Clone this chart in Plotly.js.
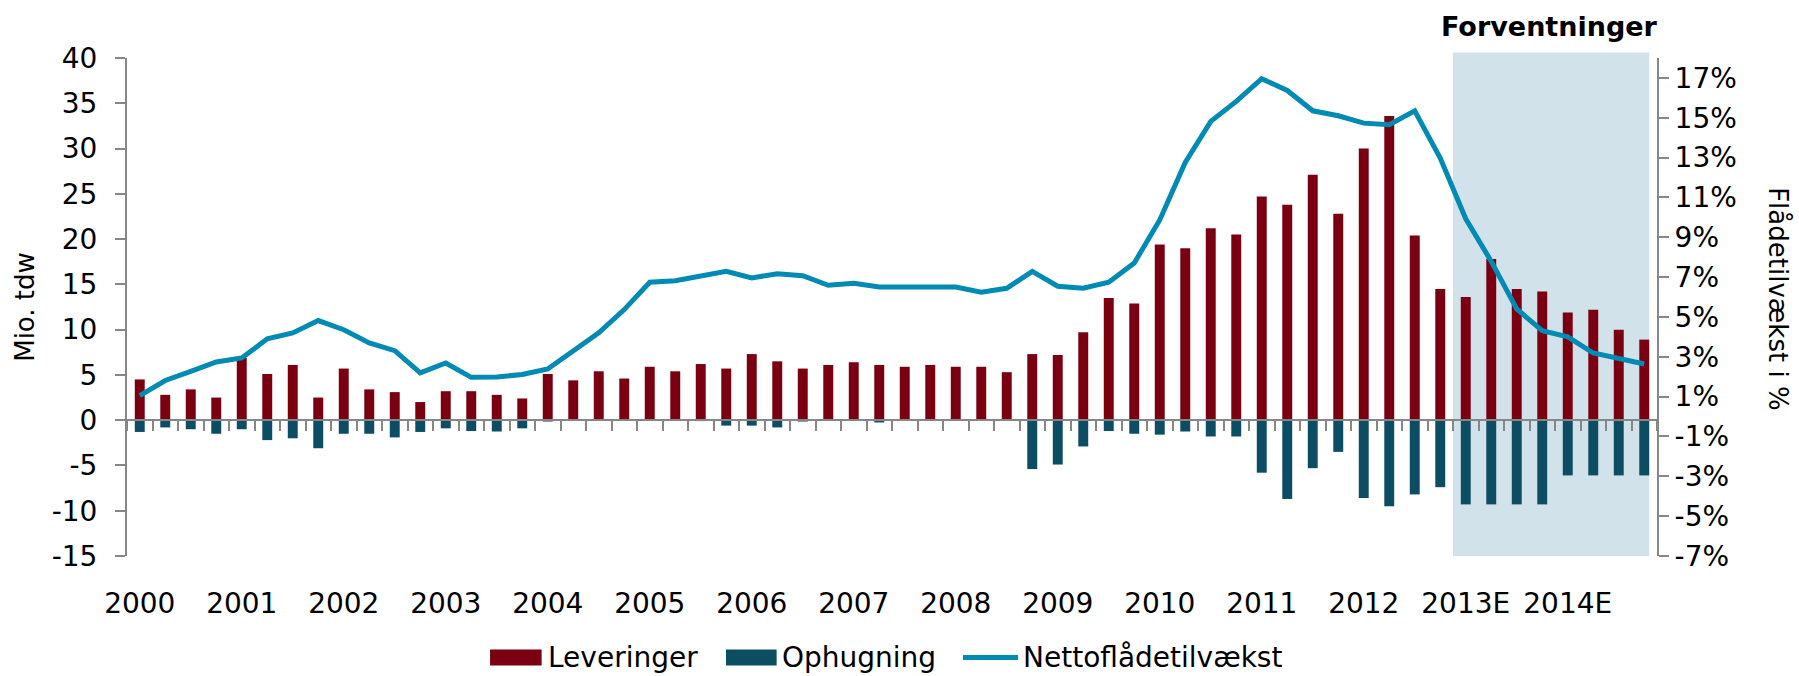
<!DOCTYPE html>
<html>
<head>
<meta charset="utf-8">
<script src="https://cdn.plot.ly/plotly-3.0.1.min.js"></script>
<style>
  html, body { margin: 0; padding: 0; background: #fff; }
  #chart { width: 1799px; height: 676px; }
</style>
</head>
<body>
<div id="chart"></div>
<script>
// ---- Data ----
const years = ['2000','2001','2002','2003','2004','2005','2006','2007','2008','2009','2010','2011','2012','2013E','2014E'];
const quarters = [];
years.forEach(y => { for (let q = 1; q <= 4; q++) quarters.push(y + ' K' + q); });

// Leveringer, mio. tdw
const leveringer = [
  4.5, 2.8, 3.4, 2.5,
  6.9, 5.1, 6.1, 2.5,
  5.7, 3.4, 3.1, 2.0,
  3.2, 3.2, 2.8, 2.4,
  5.1, 4.4, 5.4, 4.6,
  5.9, 5.4, 6.2, 5.7,
  7.3, 6.5, 5.7, 6.1,
  6.4, 6.1, 5.9, 6.1,
  5.9, 5.9, 5.3, 7.3,
  7.2, 9.7, 13.5, 12.9,
  19.4, 19.0, 21.2, 20.5,
  24.7, 23.8, 27.1, 22.8,
  30.0, 33.6, 20.4, 14.5,
  13.6, 17.8, 14.5, 14.2,
  11.9, 12.2, 10.0, 8.9
];

// Ophugning, mio. tdw
const ophugning = [
  -1.3, -0.8, -1.0, -1.5,
  -1.0, -2.2, -2.0, -3.1,
  -1.5, -1.5, -1.9, -1.3,
  -0.9, -1.2, -1.25, -0.9,
  -0.15, -0.05, -0.05, -0.05,
  -0.05, -0.05, -0.1, -0.6,
  -0.6, -0.8, -0.15, -0.05,
  -0.05, -0.25, -0.05, -0.05,
  -0.05, -0.05, -0.05, -5.4,
  -4.9, -2.9, -1.2, -1.5,
  -1.6, -1.25, -1.8, -1.8,
  -5.8, -8.7, -5.3, -3.5,
  -8.6, -9.5, -8.2, -7.4,
  -9.3, -9.3, -9.3, -9.3,
  -6.1, -6.1, -6.1, -6.1
];

// Nettoflådetilvækst, %
const netto = [
  1.05, 1.81, 2.27, 2.74,
  2.94, 3.90, 4.20, 4.82,
  4.36, 3.70, 3.31, 2.19,
  2.69, 1.97, 1.99, 2.11,
  2.39, 3.28, 4.20, 5.37,
  6.74, 6.82, 7.04, 7.29,
  6.96, 7.17, 7.07, 6.59,
  6.69, 6.50, 6.50, 6.52,
  6.50, 6.24, 6.44, 7.29,
  6.54, 6.44, 6.74, 7.71,
  9.87, 12.76, 14.82, 15.82,
  16.96, 16.37, 15.35, 15.10,
  14.73, 14.65, 15.35, 12.98,
  9.93, 7.79, 5.40, 4.31,
  4.00, 3.19, 2.94, 2.64
];

const seriesNames = ['Leveringer', 'Ophugning', 'Nettoflådetilvækst'];
const seriesColors = ['#7A0011', '#0D4D64', '#008AB4'];
const forecastStart = '2013E K1';

// ---- Derived positions ----
const xs = quarters.map((q, i) => i);
const yearTickVals = years.map((y, i) => i * 4);
const boundaryTicks = [];
for (let i = 0; i <= quarters.length; i++) boundaryTicks.push(i - 0.5);
const fIdx = quarters.indexOf(forecastStart);
const barWidth = 0.39;

const leftVals = [], leftText = [];
for (let v = -15; v <= 40; v += 5) { leftVals.push(v); leftText.push(String(v)); }
const rightVals = [], rightText = [];
for (let v = -7; v <= 17; v += 2) { rightVals.push(v); rightText.push(v + '%'); }

const FONT = "Verdana, 'DejaVu Sans', sans-serif";
const GRAY = '#868686';

const traces = [
  { type: 'bar', name: seriesNames[0], x: xs, y: leveringer, xaxis: 'x', yaxis: 'y',
    width: barWidth, marker: { color: seriesColors[0], line: { width: 0 } }, showlegend: false },
  { type: 'bar', name: seriesNames[1], x: xs, y: ophugning, xaxis: 'x', yaxis: 'y',
    width: barWidth, marker: { color: seriesColors[1], line: { width: 0 } }, showlegend: false },
  { type: 'scatter', mode: 'lines', name: seriesNames[2], x: xs, y: netto,
    xaxis: 'x', yaxis: 'y2', line: { color: seriesColors[2], width: 5 }, showlegend: false },
  { type: 'scatter', mode: 'markers', x: [xs[0]], y: [null], xaxis: 'x2', yaxis: 'y',
    showlegend: false, hoverinfo: 'skip' }
];

// Custom legend (wide swatches as in the reference)
const legY = -0.204;
const legendItems = [
  { kind: 'rect', x0: 0.2373, x1: 0.2710, tx: 0.2745 },
  { kind: 'rect', x0: 0.3915, x1: 0.4246, tx: 0.4272 },
  { kind: 'line', x0: 0.5464, x1: 0.5824, tx: 0.5849 }
];
const legShapes = [], legAnn = [];
legendItems.forEach((it, i) => {
  if (it.kind === 'rect') {
    legShapes.push({ type: 'rect', xref: 'paper', yref: 'paper', x0: it.x0, x1: it.x1,
      y0: legY - 0.0161, y1: legY + 0.0161, fillcolor: seriesColors[i], line: { width: 0 } });
  } else {
    legShapes.push({ type: 'line', xref: 'paper', yref: 'paper', x0: it.x0, x1: it.x1,
      y0: legY, y1: legY, line: { color: seriesColors[i], width: 5 } });
  }
  legAnn.push({ text: seriesNames[i], xref: 'paper', yref: 'paper', x: it.tx, y: legY,
    xanchor: 'left', yanchor: 'middle', showarrow: false, borderpad: 0,
    font: { family: FONT, size: 28, color: '#000' } });
});

const layout = {
  width: 1799, height: 676,
  margin: { l: 127, r: 142, t: 58, b: 120 },
  paper_bgcolor: '#ffffff', plot_bgcolor: 'rgba(0,0,0,0)',
  font: { family: FONT, size: 28, color: '#000' },
  barmode: 'relative',
  showlegend: false,
  xaxis: {
    range: [-0.5, quarters.length - 0.5], anchor: 'free', position: 15 / 55,
    showline: true, linecolor: GRAY, linewidth: 2,
    tickmode: 'array', tickvals: boundaryTicks, showticklabels: false,
    ticks: 'outside', ticklen: 10, tickwidth: 2, tickcolor: GRAY,
    showgrid: false, zeroline: false, fixedrange: true
  },
  xaxis2: {
    overlaying: 'x', matches: 'x', anchor: 'y', side: 'bottom',
    range: [-0.5, quarters.length - 0.5],
    tickmode: 'array', tickvals: yearTickVals, ticktext: years,
    ticks: '', showline: false, showgrid: false, zeroline: false,
    ticklabelstandoff: 28, tickfont: { family: FONT, size: 28, color: '#000' }
  },
  yaxis: {
    range: [-15, 40], tickmode: 'array', tickvals: leftVals, ticktext: leftText,
    showline: true, linecolor: GRAY, linewidth: 2,
    ticks: 'outside', ticklen: 10, tickwidth: 2, tickcolor: GRAY,
    showgrid: false, zeroline: false, ticklabelstandoff: 12,
    tickfont: { family: FONT, size: 28, color: '#000' },
    title: { text: 'Mio. tdw', font: { family: FONT, size: 26, color: '#000' }, standoff: 10 }
  },
  yaxis2: {
    overlaying: 'y', side: 'right', anchor: 'x',
    range: [-7, 18], tickmode: 'array', tickvals: rightVals, ticktext: rightText,
    showline: true, linecolor: GRAY, linewidth: 2,
    ticks: 'outside', ticklen: 10, tickwidth: 2, tickcolor: GRAY,
    showgrid: false, zeroline: false,
    tickfont: { family: FONT, size: 28, color: '#000' }
  },
  shapes: [
    { type: 'rect', layer: 'below', xref: 'x', yref: 'paper',
      x0: fIdx - 0.5, x1: quarters.length - 1 + barWidth / 2, y0: 0, y1: 1.011,
      fillcolor: '#D2E2EA', line: { width: 0 } }
  ].concat(legShapes),
  annotations: [
    { text: '<b>Forventninger</b>', xref: 'paper', yref: 'paper', x: 0.93, y: 1.063,
      xanchor: 'center', yanchor: 'middle', showarrow: false,
      font: { family: FONT, size: 27, color: '#000' } },
    { text: 'Flådetilvækst i %', xref: 'paper', yref: 'paper', x: 1.079, y: 0.516,
      xanchor: 'center', yanchor: 'middle', textangle: 90, showarrow: false,
      font: { family: FONT, size: 26, color: '#000' } }
  ].concat(legAnn)
};

Plotly.newPlot('chart', traces, layout, { displayModeBar: false, staticPlot: true });
</script>
</body>
</html>
